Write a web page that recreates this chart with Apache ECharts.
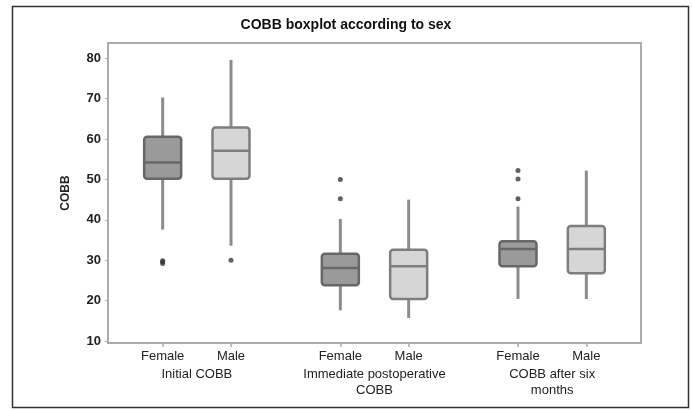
<!DOCTYPE html>
<html>
<head>
<meta charset="utf-8">
<script src="https://cdn.jsdelivr.net/npm/echarts@6/dist/echarts.min.js"></script>
<style>html,body{margin:0;padding:0;background:#fff;}#c{width:692px;height:410px;}</style>
</head>
<body>
<div id="c"></div>
<script>
// ---- data ----
var groups = ['Initial COBB', 'Immediate postoperative\nCOBB', 'COBB after six\nmonths'];
var groupCenters = [1.5, 4.1, 6.7];
var sexes = ['Female', 'Male', 'Female', 'Male', 'Female', 'Male'];
var xPositions = [1, 2, 3.6, 4.6, 6.2, 7.2];
// [min, Q1, median, Q3, max]
var boxStats = [
  [37.6, 50.2, 54.2, 60.6, 70.3],
  [33.6, 50.2, 57.1, 62.9, 79.6],
  [17.6, 23.8, 28.1, 31.6, 40.2],
  [15.7, 20.4, 28.5, 32.6, 45.0],
  [20.4, 28.5, 32.8, 34.7, 43.3],
  [20.4, 26.8, 32.8, 38.5, 52.2]
];
// outliers: [box index, value]
var outliers = [
  [0, 29.2], [0, 29.6], [0, 29.9],
  [1, 30.0],
  [2, 50.0], [2, 45.2],
  [4, 52.2], [4, 50.1], [4, 45.2]
];
var yTicks = [10, 20, 30, 40, 50, 60, 70, 80];

var boxData = boxStats.map(function (s, i) { return [xPositions[i]].concat(s).concat([i % 2]); });
var outlierData = outliers.map(function (o) { return [xPositions[o[0]], o[1]]; });

var fills = ['#9a9a9a', '#d6d6d6'];
var borders = ['#676767', '#7e7e7e'];
var FONT = '"Liberation Sans", Arial, sans-serif';

var chart = echarts.init(document.getElementById('c'), null, {renderer: 'canvas'});
chart.setOption({
  animation: false,
  backgroundColor: '#fff',
  title: {
    text: 'COBB boxplot according to sex',
    left: 'center', top: 13,
    textStyle: {fontFamily: FONT, fontSize: 14, fontWeight: 'bold', color: '#111'}
  },
  graphic: [{
    type: 'rect', left: 10, top: 4, silent: true,
    shape: {width: 676, height: 401},
    style: {fill: 'none', stroke: '#333', lineWidth: 1.5}
  }],
  grid: {left: 108, right: 51, top: 43, bottom: 67, show: true, borderColor: '#ababab', borderWidth: 2, backgroundColor: 'transparent'},
  xAxis: [{
    type: 'value', min: 0.2, max: 8.0,
    axisLine: {show: true, lineStyle: {color: '#ababab', width: 2}},
    axisTick: {show: true, customValues: xPositions, length: 4, lineStyle: {color: '#ababab', width: 1.5}},
    axisLabel: {
      customValues: xPositions, margin: 7,
      fontFamily: FONT, fontSize: 13, color: '#222',
      formatter: function (v) { var i = xPositions.indexOf(v); return i >= 0 ? sexes[i] : ''; }
    },
    splitLine: {show: false}
  }, {
    type: 'value', min: 0.2, max: 8.0, position: 'bottom',
    axisLine: {show: false}, axisTick: {show: false},
    axisLabel: {
      customValues: groupCenters, margin: 23, lineHeight: 16,
      fontFamily: FONT, fontSize: 13, color: '#222',
      formatter: function (v) { var i = groupCenters.indexOf(v); return i >= 0 ? groups[i] : ''; }
    },
    splitLine: {show: false}
  }],
  yAxis: {
    type: 'value', min: 9.5, max: 83.8,
    name: 'COBB', nameLocation: 'middle', nameRotate: 90, nameGap: 36,
    nameTextStyle: {fontFamily: FONT, fontSize: 12, fontWeight: 'bold', color: '#222'},
    axisLine: {show: true, lineStyle: {color: '#ababab', width: 2}},
    axisTick: {show: true, customValues: yTicks, length: 3, lineStyle: {color: '#ababab'}},
    axisLabel: {customValues: yTicks, margin: 7, fontFamily: FONT, fontSize: 13, fontWeight: 'bold', color: '#222'},
    splitLine: {show: false}
  },
  series: [{
    type: 'custom',
    xAxisIndex: 0,
    data: boxData,
    encode: {x: 0, y: [1, 2, 3, 4, 5]},
    renderItem: function (params, api) {
      var x = api.value(0);
      var pMin = api.coord([x, api.value(1)]);
      var pQ1 = api.coord([x, api.value(2)]);
      var pMed = api.coord([x, api.value(3)]);
      var pQ3 = api.coord([x, api.value(4)]);
      var pMax = api.coord([x, api.value(5)]);
      var sex = api.value(6);
      var hw = 18.5;
      var cx = pMed[0];
      return {
        type: 'group',
        children: [
          {type: 'line', shape: {x1: cx, y1: pMin[1], x2: cx, y2: pQ1[1]}, style: {stroke: '#8c8c8c', lineWidth: 3}},
          {type: 'line', shape: {x1: cx, y1: pQ3[1], x2: cx, y2: pMax[1]}, style: {stroke: '#8c8c8c', lineWidth: 3}},
          {type: 'rect', shape: {x: cx - hw, y: pQ3[1], width: hw * 2, height: pQ1[1] - pQ3[1], r: 3},
            style: {fill: fills[sex], stroke: borders[sex], lineWidth: 2.5}},
          {type: 'line', shape: {x1: cx - hw, y1: pMed[1], x2: cx + hw, y2: pMed[1]}, style: {stroke: borders[sex], lineWidth: 2.5}}
        ]
      };
    }
  }, {
    type: 'scatter',
    xAxisIndex: 0,
    data: outlierData,
    symbol: 'circle',
    symbolSize: 5,
    itemStyle: {color: '#3a3a3a'}
  }]
});
</script>
</body>
</html>
